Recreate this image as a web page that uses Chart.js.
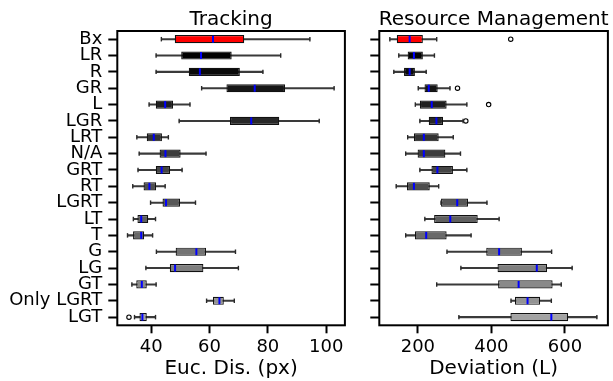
<!DOCTYPE html>
<html>
<head>
<meta charset="utf-8">
<script src="https://cdn.jsdelivr.net/npm/chart.js@4/dist/chart.umd.min.js"></script>
<style>
html,body{margin:0;padding:0;background:#fff;}
#wrap{position:relative;width:613px;height:381px;overflow:hidden;}
canvas{position:absolute;top:0;}
#c1{left:0;}
#c2{left:360px;}
</style>
</head>
<body>
<div id="wrap">
<canvas id="c1" width="350" height="381" style="width:350px;height:381px"></canvas>
<canvas id="c2" width="253" height="381" style="width:253px;height:381px"></canvas>
</div>
<script>
// ---- data ----
const categories = ['Bx','LR','R','GR','L','LGR','LRT','N/A','GRT','RT','LGRT','LT','T','G','LG','GT','Only LGRT','LGT'];

const trackMin = [43.5, 41.7, 41.7, 57.3, 39.3, 49.6, 35.1, 35.9, 35.5, 33.7, 39.8, 33.9, 31.9, 41.8, 38.2, 33.4, 59.0, 34.3];
const trackQ1  = [48.1, 50.3, 52.9, 65.8, 41.6, 67.0, 38.5, 42.9, 41.6, 37.4, 43.9, 35.3, 33.8, 48.4, 46.4, 34.9, 61.2, 36.0];
const trackMed = [61.2, 57.1, 56.7, 75.5, 44.8, 74.3, 40.9, 44.9, 43.6, 39.4, 45.1, 36.6, 36.6, 55.5, 48.2, 36.8, 63.4, 37.0];
const trackQ3  = [71.9, 67.6, 70.4, 85.9, 47.5, 83.9, 43.7, 50.1, 46.5, 41.7, 49.9, 39.0, 37.6, 58.8, 57.9, 38.5, 64.9, 38.5];
const trackMax = [94.4, 84.4, 78.3, 102.7, 53.3, 97.6, 45.9, 58.8, 50.6, 44.8, 55.2, 41.5, 40.5, 68.9, 69.9, 41.7, 68.5, 41.5];
const trackOutliers = [{y:'LGT', x:32.4}];
const trackTicks = [40, 60, 80, 100];

const resMin = [123.7, 148, 134.5, 201, 193, 205.4, 172.2, 166.8, 205.4, 141, 263, 218.9, 166.8, 279.2, 317, 251.2, 453.4, 311.6];
const resQ1  = [142.6, 172.2, 162.3, 218, 205.4, 229.6, 189.2, 199.2, 236.9, 170.4, 263, 244.2, 191.9, 386, 416.7, 418.3, 464.2, 451.8];
const resMed = [177.6, 189.2, 177.6, 229.6, 237.7, 250.4, 216.2, 216.2, 253.1, 189.2, 307, 288.1, 222.6, 421, 523.5, 474.1, 498.4, 563.1];
const resQ3  = [213.5, 213.5, 191.9, 253.9, 278.2, 268.4, 256.6, 274.7, 295.4, 232.3, 336.4, 362.8, 278.2, 483, 551.5, 566.6, 532.6, 608.9];
const resMax = [251.2, 245, 222.6, 287.3, 333.2, 323, 296.2, 315.9, 333.2, 256.6, 387.9, 421, 344.7, 563.9, 619.7, 590, 563.1, 687];
const resOutliers = [{y:'Bx', x:452.6}, {y:'GR', x:307.8}, {y:'L', x:392.5}, {y:'LGR', x:330.4}];
const resTicks = [200, 400, 600];

// ---- styles ----
const boxColors = ['#ff0000','#000000','#0a0a0a','#161616','#1f1f1f','#282828','#333333','#3c3c3c','#454545','#4e4e4e','#575757','#606060','#696969','#747474','#7e7e7e','#898989','#939393','#a3a3a3'];
const FONT = '"DejaVu Sans", sans-serif';

const boxPlugin = {
  id: 'boxExtras',
  afterDatasetsDraw(chart, args, opts) {
    const {ctx, chartArea: a} = chart;
    const xs = chart.scales.x, ys = chart.scales.y;
    const half = (ys.getPixelForValue(1) - ys.getPixelForValue(0)) * 0.25;
    ctx.save();
    // caps
    ctx.strokeStyle = '#2a2a2a';
    ctx.lineWidth = 1.4;
    for (let i = 0; i < opts.min.length; i++) {
      const y = ys.getPixelForValue(i);
      [opts.min[i], opts.max[i]].forEach(v => {
        const x = xs.getPixelForValue(v);
        ctx.beginPath(); ctx.moveTo(x, y - half * 0.55); ctx.lineTo(x, y + half * 0.55); ctx.stroke();
      });
    }
    // medians
    ctx.strokeStyle = '#0000ff';
    ctx.lineWidth = 2;
    for (let i = 0; i < opts.med.length; i++) {
      const y = ys.getPixelForValue(i);
      const x = xs.getPixelForValue(opts.med[i]);
      ctx.beginPath(); ctx.moveTo(x, y - half + 0.6); ctx.lineTo(x, y + half - 0.6); ctx.stroke();
    }
    // frame
    ctx.strokeStyle = '#000';
    ctx.lineWidth = 2;
    ctx.strokeRect(a.left, a.top, a.right - a.left, a.bottom - a.top);
    // title
    ctx.fillStyle = '#000';
    ctx.font = '20px ' + FONT;
    ctx.textAlign = 'center';
    ctx.textBaseline = 'alphabetic';
    ctx.fillText(opts.title, (a.left + a.right) / 2, 25);
    ctx.restore();
  }
};

function makeChart(id, mins, q1s, meds, q3s, maxs, outliers, ticks, xmin, xmax, xTitle, title, yWidth, padRight, showYLabels) {
  return new Chart(document.getElementById(id), {
    type: 'bar',
    data: {
      labels: categories,
      datasets: [
        {
          type: 'scatter',
          data: outliers,
          pointRadius: 2.2,
          pointBorderWidth: 1.1,
          borderColor: '#000',
          backgroundColor: 'rgba(0,0,0,0)',
          order: 0
        },
        {
          indexAxis: 'y',
          grouped: false,
          data: q1s.map((v, i) => [v, q3s[i]]),
          backgroundColor: boxColors,
          borderColor: '#111111',
          borderWidth: 1.2,
          borderSkipped: false,
          barPercentage: 0.5,
          categoryPercentage: 1,
          order: 1
        },
        {
          indexAxis: 'y',
          grouped: false,
          data: mins.map((v, i) => [v, maxs[i]]),
          backgroundColor: '#3a3a3a',
          borderWidth: 0,
          barThickness: 1.4,
          order: 2
        }
      ]
    },
    options: {
      responsive: false,
      animation: false,
      indexAxis: 'y',
      layout: {padding: {top: 31, right: padRight, bottom: 0, left: 0}},
      plugins: {
        legend: {display: false},
        tooltip: {enabled: false},
        boxExtras: {min: mins, max: maxs, med: meds, title: title}
      },
      scales: {
        x: {
          type: 'linear',
          min: xmin, max: xmax,
          afterBuildTicks: s => { s.ticks = ticks.map(v => ({value: v})); },
          afterFit: s => { s.height = 55.7; },
          border: {display: false},
          grid: {drawOnChartArea: false, drawTicks: true, tickLength: 8, tickWidth: 2, tickColor: '#000'},
          ticks: {color: '#000', padding: 3, font: {family: FONT, size: 18}},
          title: {display: true, text: xTitle, color: '#000', padding: {top: 0, bottom: 0}, font: {family: FONT, size: 20}}
        },
        y: {
          type: 'category',
          labels: categories,
          offset: true,
          afterFit: s => { s.width = yWidth; },
          border: {display: false},
          grid: {offset: false, drawOnChartArea: false, drawTicks: true, tickLength: 9, tickWidth: 2, tickColor: '#000'},
          ticks: {color: '#000', padding: 6, autoSkip: false, display: showYLabels, font: {family: FONT, size: 18}}
        }
      }
    },
    plugins: [boxPlugin]
  });
}

makeChart('c1', trackMin, trackQ1, trackMed, trackQ3, trackMax, trackOutliers, trackTicks, 28.4, 106.4, 'Euc. Dis. (px)', 'Tracking', 117.3, 1.7, true);
makeChart('c2', resMin, resQ1, resMed, resQ3, resMax, resOutliers, resTicks, 95, 717, 'Deviation (L)', 'Resource Management', 19.3, 3, false);
</script>
</body>
</html>
